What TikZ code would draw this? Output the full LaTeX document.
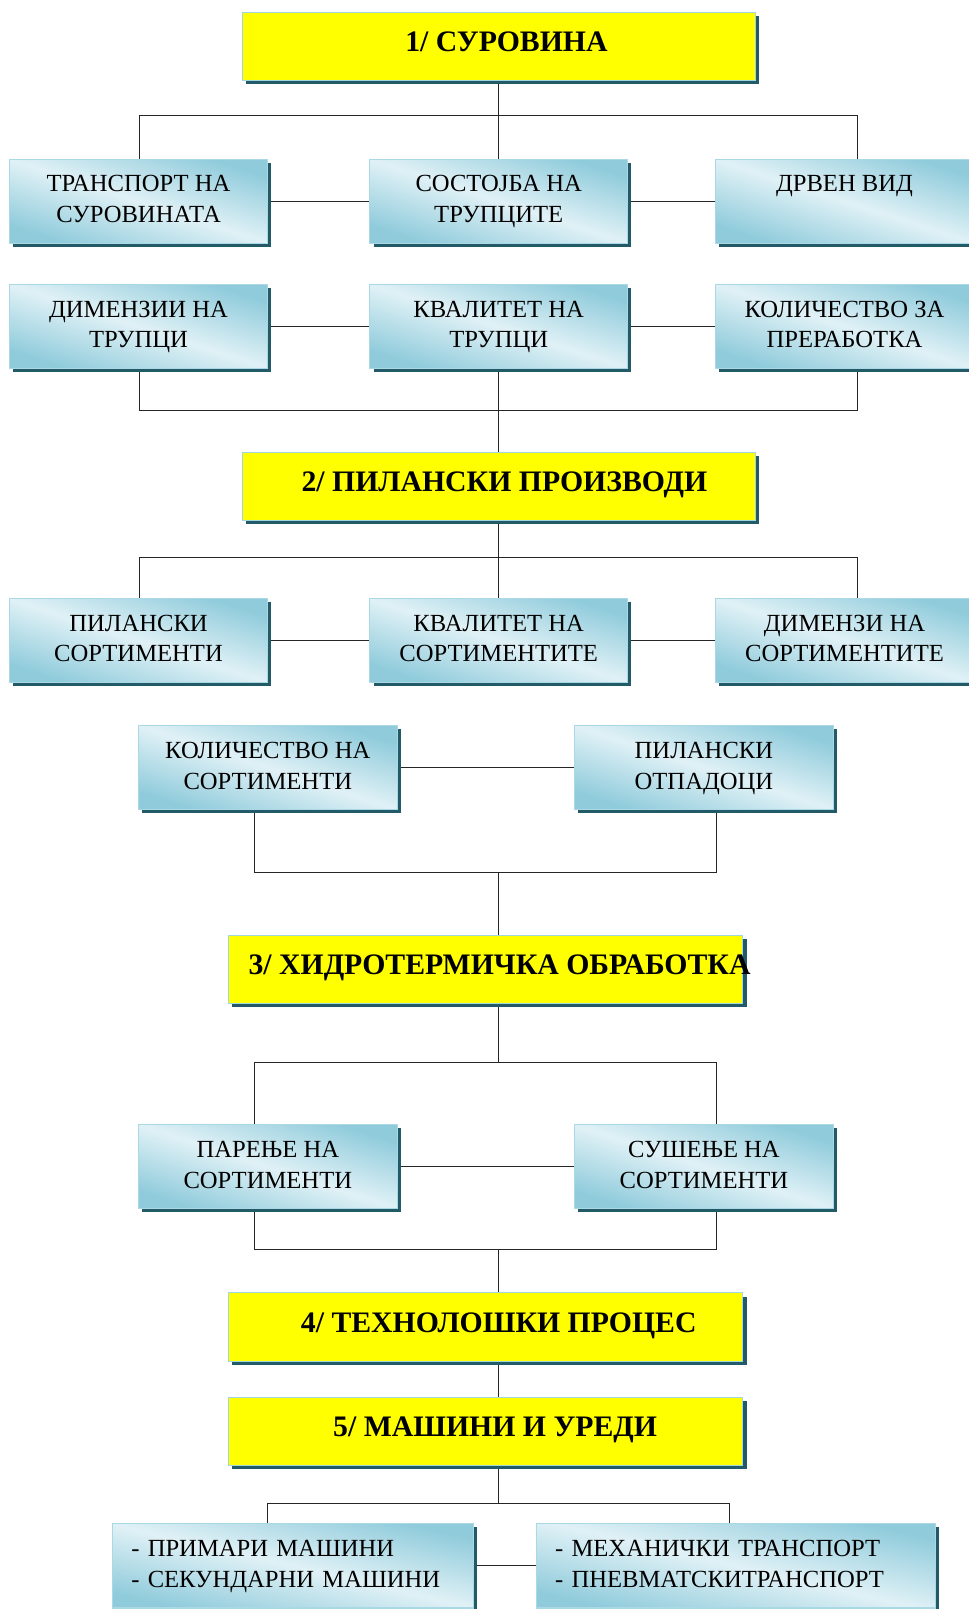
\documentclass[tikz,border=0pt]{standalone}
\usepackage{fontspec}
\setmainfont{Liberation Serif}
\usetikzlibrary{shadows,calc}
\pgfdeclarelayer{background}
\pgfsetlayers{background,main}
\definecolor{boxdark}{RGB}{143,203,219}
\definecolor{boxlight}{RGB}{224,241,246}
\definecolor{boxedge}{RGB}{170,216,228}
\definecolor{shadowteal}{RGB}{35,90,104}
\definecolor{titleedge}{RGB}{160,214,222}
\definecolor{titlefill}{RGB}{255,255,0}

\begin{document}
\begin{tikzpicture}[x=1pt,y=-1pt,
  boxshadow/.style={drop shadow={shadow xshift=3.5pt,shadow yshift=-3.5pt,fill=shadowteal,opacity=1}},
  titlebox/.style={draw=titleedge,line width=1pt,fill=titlefill,boxshadow,inner sep=0pt,minimum height=66pt},
  titletext/.style={font=\bfseries\fontsize{29}{34}\selectfont,inner sep=0pt,anchor=base},
  infobox/.style={draw=boxedge,line width=1pt,boxshadow,
    top color=boxdark,bottom color=boxdark,middle color=boxlight,shading angle=-18,
    inner xsep=2pt,inner ysep=0pt,minimum width=251pt,minimum height=82pt,
    align=center,font=\fontsize{24}{30}\selectfont},
  listbox/.style={infobox,shading angle=-13,align=left,inner xsep=18pt,minimum width=0pt},
  conn/.style={draw=black!85,line width=1pt}
]
\useasboundingbox (0,0) rectangle (944,1568);

% level 1: raw material
\node[titlebox,minimum width=500pt] (b1) at (486,45) {};
\node[titletext] (t1) at (493.5,50) {1/ СУРОВИНА};

\node[infobox] (r1a) at (135,196) {\strut ТРАНСПОРТ НА\\\strut СУРОВИНАТА};
\node[infobox] (r1b) at (486,196) {\strut СОСТОЈБА НА\\\strut ТРУПЦИТЕ};
\node[infobox] (r1c) at (823,196) {\strut ДРВЕН ВИД\\\strut};

\node[infobox] (r2a) at (135,318) {\strut ДИМЕНЗИИ НА\\\strut ТРУПЦИ};
\node[infobox] (r2b) at (486,318) {\strut КВАЛИТЕТ НА\\\strut ТРУПЦИ};
\node[infobox] (r2c) at (823,318) {\strut КОЛИЧЕСТВО ЗА\\\strut ПРЕРАБОТКА};

% level 2: sawmill products
\node[titlebox,minimum width=500pt] (b2) at (486,474) {};
\node[titletext] (t2) at (491.5,479) {2/ ПИЛАНСКИ ПРОИЗВОДИ};

\node[infobox] (r3a) at (135,624) {\strut ПИЛАНСКИ\\\strut СОРТИМЕНТИ};
\node[infobox] (r3b) at (486,624) {\strut КВАЛИТЕТ НА\\\strut СОРТИМЕНТИТЕ};
\node[infobox] (r3c) at (823,624) {\strut ДИМЕНЗИ НА\\\strut СОРТИМЕНТИТЕ};

\node[infobox,minimum width=252pt] (r4a) at (261,748) {\strut КОЛИЧЕСТВО НА\\\strut СОРТИМЕНТИ};
\node[infobox,minimum width=252pt] (r4b) at (686,748) {\strut ПИЛАНСКИ\\\strut ОТПАДОЦИ};

% level 3: hydrothermal treatment
\node[titlebox,minimum width=501pt] (b3) at (473.5,945) {};
\node[titletext,anchor=base west] (t3) at (242,950) {3/ ХИДРОТЕРМИЧКА ОБРАБОТКА};

\node[infobox,minimum width=252pt] (r5a) at (261,1137) {\strut ПАРЕЊЕ НА\\\strut СОРТИМЕНТИ};
\node[infobox,minimum width=252pt] (r5b) at (686,1137) {\strut СУШЕЊЕ НА\\\strut СОРТИМЕНТИ};

% levels 4 and 5
\node[titlebox,minimum width=501pt,minimum height=67pt] (b4) at (473.5,1293.5) {};
\node[titletext] (t4) at (486,1298.5) {4/ ТЕХНОЛОШКИ ПРОЦЕС};

\node[titlebox,minimum width=501pt] (b5) at (473.5,1395) {};
\node[titletext] (t5) at (482.5,1400) {5/ МАШИНИ И УРЕДИ};

\node[listbox,text width=315pt] (m1) at (285.5,1526)
  {\strut\mbox{- ПРИМАРИ МАШИНИ}\\\strut\mbox{- СЕКУНДАРНИ МАШИНИ}};
\node[listbox,text width=353pt] (m2) at (717.5,1526)
  {\strut\mbox{- МЕХАНИЧКИ ТРАНСПОРТ}\\\strut\mbox{- ПНЕВМАТСКИТРАНСПОРТ}};

% connectors, kept behind the boxes
\begin{pgfonlayer}{background}
\coordinate (tx) at (486,0);

\coordinate (j1) at (486,113);
\coordinate (j1l) at (136,113);
\coordinate (j1r) at (836,113);
\draw[conn] (b1.south) -- (j1) -- (r1b.north);
\draw[conn] (j1l |- r1a.north) -- (j1l) -- (j1r) -- (j1r |- r1c.north);
\draw[conn] (r1a.east) -- (r1b.west) (r1b.east) -- (r1c.west);

\draw[conn] (r2a.east) -- (r2b.west) (r2b.east) -- (r2c.west);
\coordinate (j2l) at (136,400);
\coordinate (j2r) at (836,400);
\draw[conn] (j2l |- r2a.south) -- (j2l) -- (j2r) -- (j2r |- r2c.south);
\draw[conn] (r2b.south) -- (b2.north);

\coordinate (j3) at (486,543);
\coordinate (j3l) at (136,543);
\coordinate (j3r) at (836,543);
\draw[conn] (b2.south) -- (j3) -- (r3b.north);
\draw[conn] (j3l |- r3a.north) -- (j3l) -- (j3r) -- (j3r |- r3c.north);
\draw[conn] (r3a.east) -- (r3b.west) (r3b.east) -- (r3c.west);

\draw[conn] (r4a.east) -- (r4b.west);
\coordinate (j4l) at (248,850);
\coordinate (j4r) at (698,850);
\draw[conn] (j4l |- r4a.south) -- (j4l) -- (j4r) -- (j4r |- r4b.south);
\draw[conn] (tx |- j4l) -- (tx |- b3.north);

\coordinate (j5l) at (248,1035);
\coordinate (j5r) at (698,1035);
\draw[conn] (tx |- b3.south) -- (tx |- j5l);
\draw[conn] (j5l |- r5a.north) -- (j5l) -- (j5r) -- (j5r |- r5b.north);
\draw[conn] (r5a.east) -- (r5b.west);

\coordinate (j6l) at (248,1218);
\coordinate (j6r) at (698,1218);
\draw[conn] (j6l |- r5a.south) -- (j6l) -- (j6r) -- (j6r |- r5b.south);
\draw[conn] (tx |- j6l) -- (tx |- b4.north);
\draw[conn] (tx |- b4.south) -- (tx |- b5.north);

\coordinate (j7l) at (261,1465);
\coordinate (j7r) at (711,1465);
\draw[conn] (tx |- b5.south) -- (tx |- j7l);
\draw[conn] (j7l |- m1.north) -- (j7l) -- (j7r) -- (j7r |- m2.north);
\draw[conn] (m1.east) -- (m2.west);
\end{pgfonlayer}
\end{tikzpicture}
\end{document}
